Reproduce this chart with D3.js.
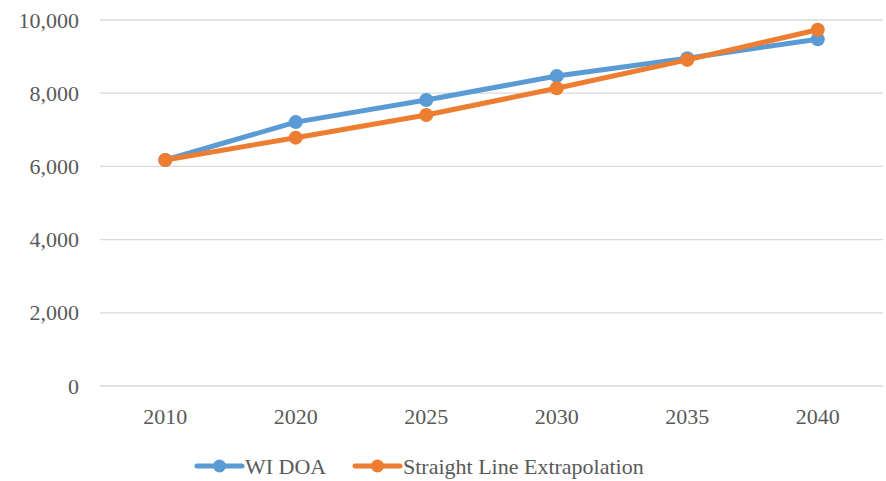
<!DOCTYPE html>
<html>
<head>
<meta charset="utf-8">
<script src="https://cdn.jsdelivr.net/npm/d3@7"></script>
<style>
  html, body { margin: 0; padding: 0; background: #fff; }
  svg { display: block; }
  text { font-family: "Liberation Serif", "Times New Roman", serif; fill: #595959; }
</style>
</head>
<body>
<svg id="chart" width="886" height="481"></svg>
<script>
// Population projections by year
const years = ["2010", "2020", "2025", "2030", "2035", "2040"];
const wiDoa = [6175, 7210, 7815, 8470, 8955, 9475];
const straightLine = [6175, 6785, 7405, 8135, 8910, 9735];
const yTicks = [0, 2000, 4000, 6000, 8000, 10000];
const seriesNames = ["WI DOA", "Straight Line Extrapolation"];
const seriesColors = ["#5B9BD5", "#ED7D31"];

const svg = d3.select("#chart");
const margin = { left: 100, right: 3, top: 20, bottom: 95 };
const width = 886, height = 481;

const x = d3.scaleBand().domain(years).range([margin.left, width - margin.right]);
const y = d3.scaleLinear().domain([0, 10000]).range([386, 20]);

// horizontal gridlines
svg.append("g")
  .selectAll("line")
  .data(yTicks)
  .join("line")
  .attr("x1", margin.left)
  .attr("x2", width - margin.right)
  .attr("y1", d => y(d))
  .attr("y2", d => y(d))
  .attr("stroke", "#d9d9d9")
  .attr("stroke-width", 1.3);

// y axis labels
const yAxis = d3.axisLeft(y).tickValues(yTicks).tickFormat(d3.format(",")).tickSize(0).tickPadding(21);
svg.append("g")
  .attr("transform", `translate(${margin.left},0)`)
  .call(yAxis)
  .call(g => g.select(".domain").remove())
  .call(g => g.selectAll("text")
    .style("font-family", '"Liberation Serif", "Times New Roman", serif')
    .style("font-size", "22px")
    .attr("fill", "#595959"));

// x axis labels
const xAxis = d3.axisBottom(x).tickSize(0).tickPadding(22);
svg.append("g")
  .attr("transform", `translate(0,${y(0)})`)
  .call(xAxis)
  .call(g => g.select(".domain").remove())
  .call(g => g.selectAll("text")
    .style("font-family", '"Liberation Serif", "Times New Roman", serif')
    .style("font-size", "22px")
    .attr("fill", "#595959"));

const cx = d => x(d) + x.bandwidth() / 2;
const line = d3.line().x(d => cx(d.year)).y(d => y(d.value));

[wiDoa, straightLine].forEach((vals, i) => {
  const pts = years.map((yr, j) => ({ year: yr, value: vals[j] }));
  const g = svg.append("g");
  g.append("path")
    .datum(pts)
    .attr("d", line)
    .attr("fill", "none")
    .attr("stroke", seriesColors[i])
    .attr("stroke-width", 5)
    .attr("stroke-linejoin", "round")
    .attr("stroke-linecap", "round");
  g.selectAll("circle")
    .data(pts)
    .join("circle")
    .attr("cx", d => cx(d.year))
    .attr("cy", d => y(d.value))
    .attr("r", 7)
    .attr("fill", seriesColors[i]);
});

// legend
const legendY = 466;
const legendItems = [
  { name: seriesNames[0], color: seriesColors[0], x0: 197 },
  { name: seriesNames[1], color: seriesColors[1], x0: 355 }
];
const lg = svg.append("g");
legendItems.forEach(item => {
  lg.append("line")
    .attr("x1", item.x0).attr("x2", item.x0 + 45)
    .attr("y1", legendY).attr("y2", legendY)
    .attr("stroke", item.color)
    .attr("stroke-width", 5)
    .attr("stroke-linecap", "round");
  lg.append("circle")
    .attr("cx", item.x0 + 22.5).attr("cy", legendY)
    .attr("r", 6.5).attr("fill", item.color);
  lg.append("text")
    .attr("x", item.x0 + 48)
    .attr("y", legendY)
    .attr("dy", "0.35em")
    .style("font-size", "22px")
    .text(item.name);
});
</script>
</body>
</html>
